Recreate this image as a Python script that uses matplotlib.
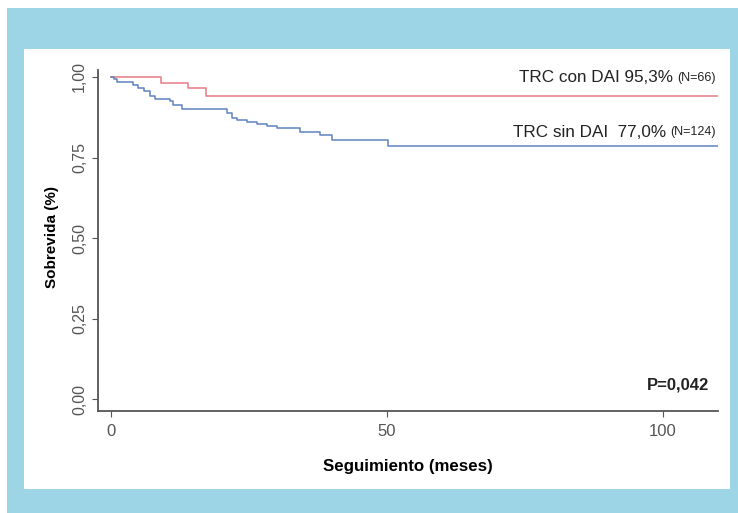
import matplotlib.pyplot as plt
from matplotlib.patches import Rectangle

plt.rcParams['font.family'] = ['Liberation Sans', 'DejaVu Sans']

# Kaplan-Meier steps
t_con = [0, 0.7, 9.1, 14.0, 17.2, 110]
s_con = [1.0, 1.0, 0.982, 0.965, 0.941, 0.941]

t_sin = [0, 0.6, 1.1, 4.0, 4.9, 5.9, 7.1, 8.0, 10.7, 11.2, 12.8, 21.0, 21.9, 22.8,
         24.6, 26.4, 28.2, 30.0, 34.2, 37.9, 40.0, 50.2, 110]
s_sin = [1.0, 0.995, 0.985, 0.975, 0.965, 0.955, 0.94, 0.931, 0.924, 0.913, 0.90, 0.888,
         0.872, 0.865, 0.86, 0.853, 0.848, 0.841, 0.83, 0.82, 0.805, 0.786, 0.786]

yticks = [0.0, 0.25, 0.5, 0.75, 1.0]
ytick_labels = ['0,00', '0,25', '0,50', '0,75', '1,00']
xticks = [0, 50, 100]

W, H = 738, 513
fig = plt.figure(figsize=(W / 100, H / 100), dpi=100)
fig.patch.set_facecolor('white')
fig.patches.append(Rectangle((7 / W, 0), 1 - 7 / W, 1 - 8 / H, transform=fig.transFigure,
                             facecolor='#9dd5e6', edgecolor='none', zorder=-2))
fig.patches.append(Rectangle((24 / W, 1 - 489 / H), (730 - 24) / W, (489 - 49) / H,
                             transform=fig.transFigure, facecolor='white', edgecolor='none', zorder=-1))

ax = fig.add_axes([98 / W, 1 - 411 / H, (718 - 98) / W, (411 - 64) / H])
ax.set_facecolor('none')
ax.step(t_con, s_con, where='post', color='#e87a86', lw=1.1)
ax.step(t_sin, s_sin, where='post', color='#5f82c0', lw=1.1)

ax.set_xlim(-2.36, 110.0)
ax.set_ylim(-0.036, 1.04)
ax.set_xticks(xticks)
ax.set_xticklabels([str(x) for x in xticks], fontsize=12, color='#3a3a3a')
ax.set_yticks(yticks)
ax.set_yticklabels(ytick_labels, rotation=90, va='center', fontsize=11.5, color='#3a3a3a')
for s in ['top', 'right']:
    ax.spines[s].set_visible(False)
for s in ['left', 'bottom']:
    ax.spines[s].set_color('#555555')
    ax.spines[s].set_linewidth(1.3)
ax.spines['left'].set_bounds(-0.036, 1.02)
ax.tick_params(colors='#555555', length=4, pad=5)
ax.tick_params(axis='y', pad=4)

ax.set_xlabel('Seguimiento (meses)', fontsize=12.2, fontweight='bold', labelpad=15)
ax.set_ylabel('Sobrevida (%)', fontsize=11, fontweight='bold', labelpad=9)

n1 = ax.text(0.997, 0.960, '(N=66)', transform=ax.transAxes, fontsize=9,
             ha='right', va='center', color='#222222')
ax.annotate('TRC con DAI 95,3% ', xy=(0, 0.5), xycoords=n1, fontsize=12.3,
            ha='right', va='center', color='#222222')
n2 = ax.text(0.997, 0.803, '(N=124)', transform=ax.transAxes, fontsize=9,
             ha='right', va='center', color='#222222')
ax.annotate('TRC sin DAI  77,0% ', xy=(0, 0.5), xycoords=n2, fontsize=12.3,
            ha='right', va='center', color='#222222')
ax.text(0.985, 0.075, 'P=0,042', transform=ax.transAxes, fontsize=12,
        fontweight='bold', ha='right', va='center', color='#222222')

fig.savefig('out.png', dpi=100)
